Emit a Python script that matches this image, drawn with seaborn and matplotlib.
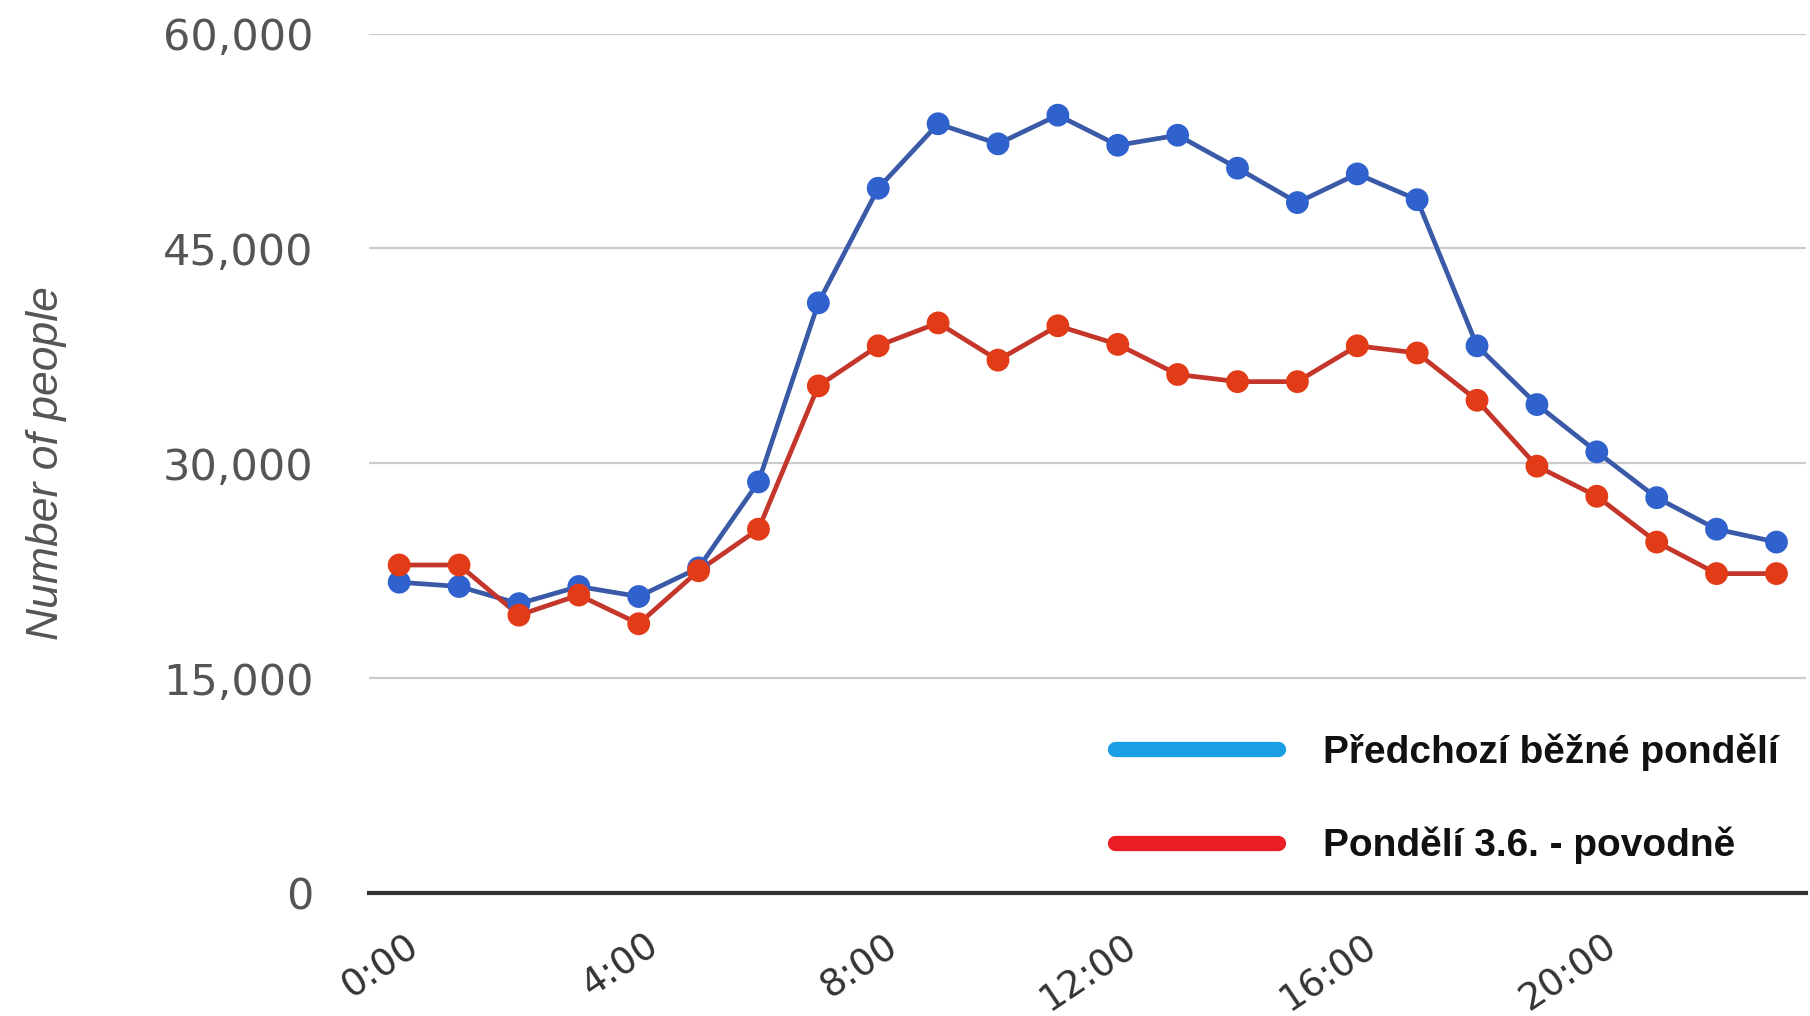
import numpy as np
import pandas as pd
import matplotlib
matplotlib.use("Agg")
import matplotlib.pyplot as plt
from matplotlib.lines import Line2D
from matplotlib.transforms import ScaledTranslation
import seaborn as sns

# Hourly counts of people (0:00 .. 23:00)
hours = list(range(24))
regular_monday = [21700, 21400, 20200, 21400, 20700, 22700, 28700, 41200,
                  49200, 53700, 52300, 54300, 52200, 52900, 50600, 48200,
                  50200, 48400, 38200, 34100, 30800, 27600, 25400, 24500]
flood_monday = [22900, 22900, 19400, 20800, 18800, 22500, 25400, 35400,
                38200, 39800, 37200, 39600, 38300, 36200, 35700, 35700,
                38200, 37700, 34400, 29800, 27700, 24500, 22300, 22300]

series_names = ["Předchozí běžné pondělí", "Pondělí 3.6. - povodně"]
tick_hours = [0, 4, 8, 12, 16, 20]
tick_labels = ["0:00", "4:00", "8:00", "12:00", "16:00", "20:00"]
y_ticks = [0, 15000, 30000, 45000, 60000]

df = pd.DataFrame({
    "hour": hours * 2,
    "people": regular_monday + flood_monday,
    "series": [series_names[0]] * 24 + [series_names[1]] * 24,
})

sns.set_style("white")
plt.rcParams["font.family"] = ["DejaVu Sans"]

fig = plt.figure(figsize=(18.10, 10.16), dpi=100)
ax = fig.add_axes([0.204, 0.121, 0.794, 0.846])

line_colors = {series_names[0]: "#3a5aa8", series_names[1]: "#c4352a"}
marker_colors = {series_names[0]: "#2f62cc", series_names[1]: "#e23b17"}

sns.lineplot(data=df, x="hour", y="people", hue="series", palette=line_colors,
             linewidth=3.4, legend=False, ax=ax, zorder=3)
sns.scatterplot(data=df, x="hour", y="people", hue="series", palette=marker_colors,
                s=270, edgecolor="none", legend=False, ax=ax, zorder=4)

ax.set_xlim(-0.5, 23.5)
ax.set_ylim(0, 60000)
ax.set_yticks(y_ticks)
ax.set_yticklabels([f"{v:,}" for v in y_ticks], fontsize=31, color="#555555")
ax.set_xticks(tick_hours)
ax.set_xticklabels(tick_labels, fontsize=27, color="#333333", rotation=34,
                   ha="right", rotation_mode="anchor")
ax.tick_params(axis="y", length=0, pad=40)
ax.tick_params(axis="x", length=0, pad=25)
shift = ScaledTranslation(6 / 100, 0, fig.dpi_scale_trans)
for lbl in ax.get_xticklabels():
    lbl.set_transform(lbl.get_transform() + shift)

ax.yaxis.grid(True, color="#cccccc", linewidth=1.6)
ax.set_axisbelow(True)
for side in ["top", "right", "left"]:
    ax.spines[side].set_visible(False)
ax.spines["bottom"].set_color("#333333")
ax.spines["bottom"].set_linewidth(3)

ax.set_xlabel("")
ax.set_ylabel("Number of people", fontsize=32, color="#555555", style="italic",
              family="Liberation Sans", labelpad=69)

handles = [Line2D([0], [0], color="#1a9fe6", linewidth=11, solid_capstyle="round"),
           Line2D([0], [0], color="#ec1c24", linewidth=11, solid_capstyle="round")]
leg = ax.legend(handles, series_names, loc="upper left",
                bbox_to_anchor=(0.616, 0.278), bbox_transform=fig.transFigure,
                frameon=False, borderpad=0, borderaxespad=0,
                prop={"family": "Liberation Sans", "weight": "bold", "size": 28},
                handlelength=4.2, handletextpad=1.15, labelspacing=1.43)
for t in leg.get_texts():
    t.set_color("#111111")

fig.savefig("out.png", dpi=100, facecolor="white")
